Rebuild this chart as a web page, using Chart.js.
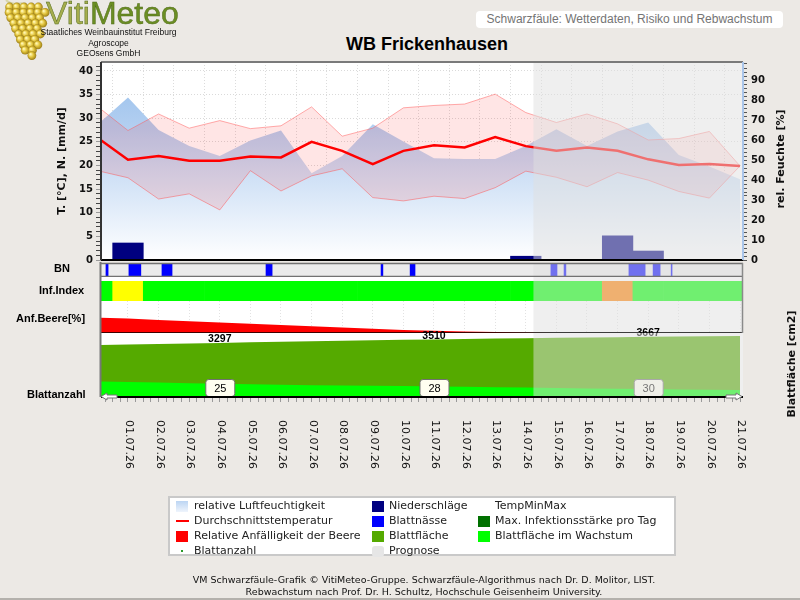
<!DOCTYPE html>
<html lang="de">
<head>
<meta charset="utf-8">
<title>WB Frickenhausen - Schwarzfäule</title>
<script src="https://cdn.jsdelivr.net/npm/chart.js@4.4.1/dist/chart.umd.min.js"></script>
<style>
  html, body { margin: 0; padding: 0; }
  body { width: 800px; height: 600px; position: relative; overflow: hidden; background: #ece9e5; font-family: 'DejaVu Sans', sans-serif; }
  canvas.layer { position: absolute; left: 0; top: 0; }
  .abs { position: absolute; white-space: nowrap; }
  #brand { left: 46px; top: -3px; font: 32px/32px 'Liberation Sans', Arial, sans-serif; -webkit-text-stroke: 0.5px #4f6a18; }
  #brand .v { color: #a6ad4e; }
  #brand .m { color: #6b8e23; }
  #sub { left: 30px; top: 27px; width: 157px; text-align: center; font: 8.5px/10.5px 'Liberation Sans', Arial, sans-serif; color: #111; }
  #headbox { left: 476px; top: 11px; width: 307px; height: 17px; background: #fff; border-radius: 4px; text-align: center; font: 12px/17px 'Liberation Sans', Arial, sans-serif; color: #747474; }
  #title { left: 227px; top: 34px; width: 400px; text-align: center; font: bold 18px/20px 'Liberation Sans', Arial, sans-serif; color: #000; }
  .slab { font: bold 11px/13px 'Liberation Sans', Arial, sans-serif; color: #000; }
  .rtitle { width: 200px; text-align: center; font: bold 11px/14px 'DejaVu Sans', sans-serif; color: #111; transform: rotate(-90deg); }
  #legend { left: 168px; top: 496px; width: 504px; height: 56px; background: #fff; border: 2px solid #c9c9c9; }
  .li { font: 11px/15px 'DejaVu Sans', sans-serif; color: #222; }
  .sym { position: absolute; }
  #foot { left: 48px; top: 574px; width: 752px; text-align: center; font: 9.5px/11.5px 'DejaVu Sans', sans-serif; color: #111; }
  #bottomline { left: 0; top: 598px; width: 800px; height: 2px; background: #b4b1ac; }
</style>
</head>
<body>

<canvas id="logo" width="50" height="60" class="layer"></canvas>
<div id="brand" class="abs"><span class="v">Viti</span><span class="m">Meteo</span></div>
<div id="sub" class="abs">Staatliches Weinbauinstitut Freiburg<br>Agroscope<br>GEOsens GmbH</div>
<div id="headbox" class="abs">Schwarzfäule: Wetterdaten, Risiko und Rebwachstum</div>
<div id="title" class="abs">WB Frickenhausen</div>

<canvas id="cMain" class="layer" width="800" height="600"></canvas>
<canvas id="cBN" class="layer" width="800" height="600"></canvas>
<canvas id="cInf" class="layer" width="800" height="600"></canvas>
<canvas id="cBeere" class="layer" width="800" height="600"></canvas>
<canvas id="cLeaf" class="layer" width="800" height="600"></canvas>

<div class="abs slab" style="left:54px;top:262px">BN</div>
<div class="abs slab" style="left:39px;top:284px">Inf.Index</div>
<div class="abs slab" style="left:16px;top:312px">Anf.Beere[%]</div>
<div class="abs slab" style="left:27px;top:388px">Blattanzahl</div>
<div class="abs rtitle" style="left:681px;top:152px">rel. Feuchte [%]</div>
<div class="abs rtitle" style="left:692px;top:357px">Blattfläche [cm2]</div>

<div id="legend" class="abs"></div>
<div class="sym" style="left:176px;top:501px;width:12px;height:11px;background:linear-gradient(#bcd5f3,#eef4fc)"></div>
<div class="abs li" style="left:194px;top:498px">relative Luftfeuchtigkeit</div>
<div class="sym" style="left:176px;top:520px;width:13px;height:2px;background:#ff0000"></div>
<div class="abs li" style="left:194px;top:513px">Durchschnittstemperatur</div>
<div class="sym" style="left:176px;top:531px;width:12px;height:11px;background:#ff0000"></div>
<div class="abs li" style="left:194px;top:528px">Relative Anfälligkeit der Beere</div>
<div class="sym" style="left:181px;top:550px;width:2px;height:2px;background:#2a9a2a"></div>
<div class="abs li" style="left:194px;top:543px">Blattanzahl</div>

<div class="sym" style="left:372px;top:501px;width:12px;height:11px;background:#000080"></div>
<div class="abs li" style="left:389px;top:498px">Niederschläge</div>
<div class="sym" style="left:372px;top:516px;width:12px;height:11px;background:#0000ff"></div>
<div class="abs li" style="left:389px;top:513px">Blattnässe</div>
<div class="sym" style="left:372px;top:531px;width:12px;height:11px;background:#55aa00"></div>
<div class="abs li" style="left:389px;top:528px">Blattfläche</div>
<div class="sym" style="left:372px;top:546px;width:12px;height:11px;background:#e6e6e6;border-radius:3px"></div>
<div class="abs li" style="left:389px;top:543px">Prognose</div>

<div class="abs li" style="left:495px;top:498px">TempMinMax</div>
<div class="sym" style="left:478px;top:516px;width:12px;height:11px;background:#007000"></div>
<div class="abs li" style="left:495px;top:513px">Max. Infektionsstärke pro Tag</div>
<div class="sym" style="left:478px;top:531px;width:12px;height:11px;background:#00ff00"></div>
<div class="abs li" style="left:495px;top:528px">Blattfläche im Wachstum</div>

<div id="foot" class="abs">VM Schwarzfäule-Grafik © VitiMeteo-Gruppe. Schwarzfäule-Algorithmus nach Dr. D. Molitor, LIST.<br>Rebwachstum nach Prof. Dr. H. Schultz, Hochschule Geisenheim University.</div>
<div id="bottomline" class="abs"></div>

<script>
// Tage (Index 0 = 30.06., Index 1 = 01.07. ...)
const days = ["30.06.26","01.07.26","02.07.26","03.07.26","04.07.26","05.07.26","06.07.26","07.07.26",
              "08.07.26","09.07.26","10.07.26","11.07.26","12.07.26","13.07.26","14.07.26","15.07.26",
              "16.07.26","17.07.26","18.07.26","19.07.26","20.07.26","21.07.26"];

// Temperatur [°C]
const tMean = [25.9, 21.2, 22.0, 21.0, 21.0, 21.9, 21.7, 25.0, 23.1, 20.3, 23.1, 24.3, 23.8, 26.0, 24.1, 23.1, 23.8, 23.1, 21.3, 20.1, 20.3, 19.9];
const tMax  = [32.5, 27.4, 30.9, 27.9, 29.5, 27.8, 28.4, 32.4, 26.2, 27.9, 32.2, 32.7, 33.0, 35.1, 31.2, 29.1, 30.9, 28.8, 25.4, 25.7, 27.2, 19.9];
const tMin  = [18.9, 17.4, 12.9, 14.0, 10.6, 18.9, 14.6, 17.8, 19.3, 13.2, 12.5, 13.5, 13.0, 15.3, 18.8, 17.5, 15.5, 18.5, 16.9, 14.5, 13.1, 19.9];
// rel. Feuchte [%]
const humidity = [67.6, 81.2, 65.0, 57.0, 52.0, 59.7, 64.7, 43.4, 52.0, 67.9, 59.2, 50.9, 50.5, 50.5, 57.0, 65.4, 57.0, 64.2, 68.7, 52.5, 46.7, 40.4];
// Niederschlag [mm/d]
const rain = [0, 3.6, 0, 0, 0, 0, 0, 0, 0, 0, 0, 0, 0, 0, 0.8, 0, 0, 5.1, 1.9, 0, 0, 0];

// Blattnässe (Beginn/Ende in Tagen)
const bnStart = [0.28, 1.03, 2.11, 5.51, 9.27, 10.22, 14.82, 15.25, 17.37, 18.16, 18.75];
const bnEnd   = [0.35, 1.42, 2.44, 5.71, 9.33, 10.38, 15.02, 15.31, 17.90, 18.39, 18.78];

// Infektionsindex pro Tag (0 = gering, 1 = mittel, 2 = hoch)
const infLevel  = [0, 1, 0, 0, 0, 0, 0, 0, 0, 0, 0, 0, 0, 0, 0, 0, 0, 2, 0, 0, 0, 0];
const infColors = ["#00ff00", "#ffff00", "#ff8000"];

// relative Anfälligkeit der Beere [%]
const beere = [48, 45, 41, 37, 33, 29, 25, 21, 17, 13, 9, 7, 5, 3, 1.5, 0, 0, 0, 0, 0, 0, 0];

// Blattfläche [cm2]
const leafArea    = [3160, 3195, 3230, 3265, 3297, 3330, 3362, 3393, 3424, 3454, 3482, 3510, 3535, 3560, 3583, 3605, 3627, 3647, 3667, 3685, 3702, 3718];
const leafGrowing = [950, 920, 880, 840, 800, 770, 745, 720, 700, 680, 665, 645, 625, 600, 575, 550, 525, 500, 480, 460, 440, 425];

// Blattanzahl (Wochenwerte)
const countDays = [4, 11, 18];
const leafCount = [25, 28, 30];

// Beginn der Prognose (14.07. 06:00)
const prognoseStart = 14.25;

const X_MIN = 0.118, X_MAX = 21.098;

Chart.defaults.animation = false;
Chart.defaults.responsive = false;
Chart.defaults.events = [];
Chart.defaults.plugins.legend.display = false;
Chart.defaults.plugins.tooltip.enabled = false;
Chart.defaults.font.family = "'DejaVu Sans', sans-serif";

const pts = arr => arr.map((v, i) => ({ x: i, y: v }));

function xAxis(extra) {
    return Object.assign({
        type: 'linear', min: X_MIN, max: X_MAX, offset: false,
        ticks: { display: false, stepSize: 1, includeBounds: false },
        grid: { display: false },
        border: { display: false },
        afterFit: s => { s.height = 0; }
    }, extra);
}

function paintBg(chart, color, top, bottom) {
    const { ctx, chartArea: a } = chart;
    const t = top ?? a.top, b = bottom ?? a.bottom;
    ctx.save();
    ctx.fillStyle = color;
    ctx.fillRect(a.left, t, a.right - a.left, b - t);
    ctx.restore();
}

function paintPrognose(chart, top, bottom) {
    const { ctx, chartArea: a, scales: { x } } = chart;
    const t = top ?? a.top, b = bottom ?? a.bottom;
    const px = x.getPixelForValue(prognoseStart);
    ctx.save();
    ctx.fillStyle = 'rgba(224,224,224,0.5)';
    ctx.fillRect(px, t, a.right - px, b - t);
    ctx.restore();
}

function hline(ctx, x1, x2, y, color, w) {
    ctx.save();
    ctx.strokeStyle = color; ctx.lineWidth = w;
    ctx.beginPath(); ctx.moveTo(x1, y); ctx.lineTo(x2, y); ctx.stroke();
    ctx.restore();
}
function vline(ctx, x, y1, y2, color, w) {
    ctx.save();
    ctx.strokeStyle = color; ctx.lineWidth = w;
    ctx.beginPath(); ctx.moveTo(x, y1); ctx.lineTo(x, y2); ctx.stroke();
    ctx.restore();
}

// ---------- Hauptgrafik: Temperatur, Niederschlag, Feuchte ----------
const tickFont = { family: "'DejaVu Sans', sans-serif", size: 10, weight: 'bold' };

new Chart(document.getElementById('cMain'), {
    type: 'line',
    data: {
        datasets: [
            { label: 'Durchschnittstemperatur', data: pts(tMean), borderColor: '#ff0000', borderWidth: 2.5,
              pointRadius: 0, fill: false, yAxisID: 'y', order: 0 },
            { type: 'bar', label: 'Niederschläge', data: pts(rain), backgroundColor: '#000080', borderWidth: 0,
              barPercentage: 1, categoryPercentage: 1, yAxisID: 'y', order: 1 },
            { label: 'TempMax', data: pts(tMax), borderColor: 'rgba(255,90,90,0.5)', borderWidth: 1,
              pointRadius: 0, fill: '+1', backgroundColor: 'rgba(255,0,0,0.1)', yAxisID: 'y', order: 2 },
            { label: 'TempMin', data: pts(tMin), borderColor: 'rgba(255,90,90,0.5)', borderWidth: 1,
              pointRadius: 0, fill: false, yAxisID: 'y', order: 3 },
            { label: 'relative Luftfeuchtigkeit', data: pts(humidity), borderWidth: 0, pointRadius: 0,
              fill: 'origin', yAxisID: 'y2', order: 4,
              backgroundColor: (c) => {
                  const { ctx, chartArea: a } = c.chart;
                  if (!a) return '#b8d2f1';
                  const g = ctx.createLinearGradient(0, a.top, 0, a.bottom);
                  g.addColorStop(0, '#93bdeb');
                  g.addColorStop(0.35, '#b5d0f1');
                  g.addColorStop(1, '#ffffff');
                  return g;
              } }
        ]
    },
    options: {
        layout: { padding: { left: 50, right: 0, top: 62, bottom: 340 } },
        scales: {
            x: xAxis({ grid: { display: true, color: '#dcdcdc', drawTicks: false }, border: { display: false, dash: [1, 2] } }),
            y: {
                position: 'left', min: 0, max: 41.9,
                afterFit: s => { s.width = 51; },
                ticks: { stepSize: 1, includeBounds: false, autoSkip: false, padding: 3, color: '#111', font: tickFont,
                         callback: v => (v % 5 === 0 ? v : '') },
                grid: { color: c => (c.tick && c.tick.value % 5 === 0 ? '#dadada' : 'rgba(0,0,0,0)'),
                        tickLength: 5, tickColor: c => (c.tick && c.tick.value % 5 === 0 ? '#9a9a9a' : '#444') },
                border: { display: false, dash: [1, 2] },
                title: { display: true, text: 'T. [°C], N. [mm/d]', color: '#111',
                         font: { family: "'DejaVu Sans', sans-serif", size: 11, weight: 'bold' }, padding: { top: 6, bottom: 0 } }
            },
            y2: {
                position: 'right', min: 0, max: 99,
                afterFit: s => { s.width = 57; },
                ticks: { stepSize: 2, includeBounds: false, autoSkip: false, padding: 4, color: '#111', font: tickFont,
                         callback: v => (v % 10 === 0 ? v : '') },
                grid: { drawOnChartArea: false, tickLength: 4, tickColor: '#555' },
                border: { display: false }
            }
        }
    },
    plugins: [{
        id: 'mainDeco',
        beforeDraw: c => paintBg(c, '#ffffff'),
        afterDatasetsDraw: c => paintPrognose(c),
        afterDraw: c => {
            const { ctx, chartArea: a } = c;
            hline(ctx, a.left, a.right, a.top, '#7a7a7a', 2);
            hline(ctx, a.left, a.right, a.bottom, '#000000', 2);
            vline(ctx, a.left, a.top, a.bottom, '#333333', 2);
            vline(ctx, a.right, a.top, a.bottom, '#a9c5ea', 2);
        }
    }]
});

// ---------- Blattnässe ----------
new Chart(document.getElementById('cBN'), {
    type: 'bar',
    data: {
        labels: ['BN'],
        datasets: [{ data: bnStart.map((s, i) => ({ x: [s, bnEnd[i]], y: 'BN' })), backgroundColor: '#0000ff',
                     borderWidth: 0, barPercentage: 1, categoryPercentage: 1 }]
    },
    options: {
        indexAxis: 'y',
        layout: { padding: { left: 101, right: 57, top: 263, bottom: 323 } },
        scales: { x: xAxis({ display: false }), y: { type: 'category', display: false } }
    },
    plugins: [{
        id: 'bnDeco',
        beforeDraw: c => paintBg(c, '#ebebeb'),
        afterDatasetsDraw: c => paintPrognose(c),
        afterDraw: c => {
            const { ctx, chartArea: a } = c;
            hline(ctx, a.left, a.right, a.top + 0.5, '#727272', 1.5);
            hline(ctx, a.left, a.right, a.bottom - 0.5, '#727272', 1.5);
        }
    }]
});

// ---------- Infektionsindex ----------
new Chart(document.getElementById('cInf'), {
    type: 'bar',
    data: {
        labels: ['Inf'],
        datasets: [{ data: infLevel.map((l, i) => ({ x: [i - 0.5, i + 0.5], y: 'Inf' })),
                     backgroundColor: infLevel.map(l => infColors[l]),
                     borderWidth: 0, barPercentage: 1, categoryPercentage: 1 }]
    },
    options: {
        indexAxis: 'y',
        layout: { padding: { left: 101, right: 57, top: 281, bottom: 299 } },
        scales: { x: xAxis({ display: false }), y: { type: 'category', display: false } }
    },
    plugins: [{
        id: 'infDeco',
        beforeDraw: c => paintBg(c, '#ffffff', 277, c.chartArea.bottom),
        afterDatasetsDraw: c => paintPrognose(c, 277, c.chartArea.bottom)
    }]
});

// ---------- Anfälligkeit der Beere ----------
new Chart(document.getElementById('cBeere'), {
    type: 'line',
    data: {
        datasets: [{ data: pts(beere), fill: 'origin', backgroundColor: '#ff0000', borderWidth: 0, pointRadius: 0 }]
    },
    options: {
        layout: { padding: { left: 101, right: 57, top: 301, bottom: 267 } },
        scales: {
            x: xAxis({ grid: { display: true, color: '#e2e2e2', drawTicks: false }, border: { display: false, dash: [1, 2] } }),
            y: { display: false, min: 0, max: 100 }
        }
    },
    plugins: [{
        id: 'beereDeco',
        beforeDraw: c => paintBg(c, '#ffffff'),
        afterDatasetsDraw: c => paintPrognose(c),
        afterDraw: c => {
            const { ctx, chartArea: a } = c;
            hline(ctx, a.left, a.right, a.bottom, '#000000', 1.5);
        }
    }]
});

// ---------- Blattfläche / Blattanzahl ----------
function roundBox(ctx, x, y, w, h, r) {
    ctx.beginPath();
    ctx.moveTo(x + r, y);
    ctx.arcTo(x + w, y, x + w, y + h, r);
    ctx.arcTo(x + w, y + h, x, y + h, r);
    ctx.arcTo(x, y + h, x, y, r);
    ctx.arcTo(x, y, x + w, y, r);
    ctx.closePath();
}
function arrow(ctx, tipX, y, dir) {
    ctx.save();
    ctx.beginPath();
    ctx.moveTo(tipX, y);
    ctx.lineTo(tipX + dir * 6, y - 3.5);
    ctx.lineTo(tipX + dir * 6, y - 1.5);
    ctx.lineTo(tipX + dir * 16, y - 1.5);
    ctx.lineTo(tipX + dir * 16, y + 1.5);
    ctx.lineTo(tipX + dir * 6, y + 1.5);
    ctx.lineTo(tipX + dir * 6, y + 3.5);
    ctx.closePath();
    ctx.fillStyle = '#ffffff'; ctx.fill();
    ctx.strokeStyle = '#777777'; ctx.lineWidth = 1; ctx.stroke();
    ctx.restore();
}

new Chart(document.getElementById('cLeaf'), {
    type: 'line',
    data: {
        datasets: [
            { label: 'Blattfläche im Wachstum', data: pts(leafGrowing), fill: 'origin', backgroundColor: '#00ff00',
              borderWidth: 0, pointRadius: 0 },
            { label: 'Blattfläche', data: pts(leafArea), fill: 'origin', backgroundColor: '#55aa00',
              borderWidth: 0, pointRadius: 0 }
        ]
    },
    options: {
        layout: { padding: { left: 101, right: 57, top: 333, bottom: 198 } },
        scales: {
            x: xAxis({
                display: true,
                ticks: { display: false, stepSize: 0.25, includeBounds: false },
                grid: { display: true, drawOnChartArea: false, drawTicks: true, tickLength: 5, tickColor: '#9a9a9a' },
                border: { display: false },
                afterFit: s => { s.height = 5; }
            }),
            y: { display: false, min: 0, max: 3900 }
        }
    },
    plugins: [{
        id: 'leafDeco',
        beforeDraw: c => paintBg(c, '#ffffff'),
        afterDatasetsDraw: c => {
            const { ctx, chartArea: a, scales: { x, y } } = c;
            ctx.save();
            countDays.forEach((d, k) => {
                const px = x.getPixelForValue(d);
                const py = y.getPixelForValue(leafArea[d]);
                ctx.font = "bold 10.5px 'Liberation Sans', Arial, sans-serif";
                ctx.fillStyle = '#000';
                ctx.textAlign = 'center';
                ctx.textBaseline = 'alphabetic';
                ctx.fillText(String(leafArea[d]), px, py - 0.5);

                const bw = 29, bh = 17, bx = px - bw / 2, by = a.bottom - bh - 1;
                roundBox(ctx, bx + 0.5, by + 0.5, bw, bh, 3);
                ctx.fillStyle = '#fffff0'; ctx.fill();
                ctx.strokeStyle = '#707070'; ctx.lineWidth = 1; ctx.stroke();
                ctx.fillStyle = '#000';
                ctx.font = "11px 'Liberation Sans', Arial, sans-serif";
                ctx.textBaseline = 'middle';
                ctx.fillText(String(leafCount[k]), px + 0.5, by + bh / 2 + 1);
            });
            ctx.restore();
            paintPrognose(c);
        },
        afterDraw: c => {
            const { ctx, chartArea: a, scales: { x } } = c;
            hline(ctx, a.left, a.right, a.bottom, '#000000', 2);
            vline(ctx, a.left - 0.5, 262, a.bottom, '#777777', 2);
            vline(ctx, a.right - 0.5, 263, a.top, '#8a8a8a', 1.5);
            arrow(ctx, a.left, a.bottom - 0.5, 1);
            arrow(ctx, a.right - 1, a.bottom - 0.5, -1);

            // Datumsbeschriftung, um 90° gedreht
            ctx.save();
            ctx.font = "11px 'DejaVu Sans', sans-serif";
            ctx.fillStyle = '#111';
            ctx.textAlign = 'left';
            ctx.textBaseline = 'middle';
            days.forEach((d, i) => {
                const px = x.getPixelForValue(i);
                if (px < a.left || px > a.right + 1) return;
                ctx.save();
                ctx.translate(px + 1, 420);
                ctx.rotate(Math.PI / 2);
                ctx.fillText(d, 0, 0);
                ctx.restore();
            });
            ctx.restore();
        }
    }]
});

// ---------- Logo (Traube) ----------
(function drawLogo() {
    const c = document.getElementById('logo').getContext('2d');
    c.strokeStyle = '#d8d6a8'; c.lineWidth = 2;
    c.beginPath(); c.moveTo(6, 0); c.quadraticCurveTo(12, 6, 22, 3); c.stroke();
    const rowsN = [5, 6, 5, 5, 4, 4, 3, 3, 2, 1];
    rowsN.forEach((n, r) => {
        const yy = 7 + r * 5.4;
        const x0 = 25 - (n - 1) * 3.6 + (r % 2 ? 1.5 : -1) + r * 0.6;
        for (let k = 0; k < n; k++) {
            const xx = x0 + k * 7.2;
            const g = c.createRadialGradient(xx - 1.5, yy - 1.5, 0.5, xx, yy, 4.8);
            g.addColorStop(0, '#fff6b0');
            g.addColorStop(0.45, '#e2c43c');
            g.addColorStop(1, '#8f7212');
            c.fillStyle = g;
            c.beginPath(); c.arc(xx, yy, 4.4, 0, Math.PI * 2); c.fill();
        }
    });
})();
</script>
</body>
</html>
